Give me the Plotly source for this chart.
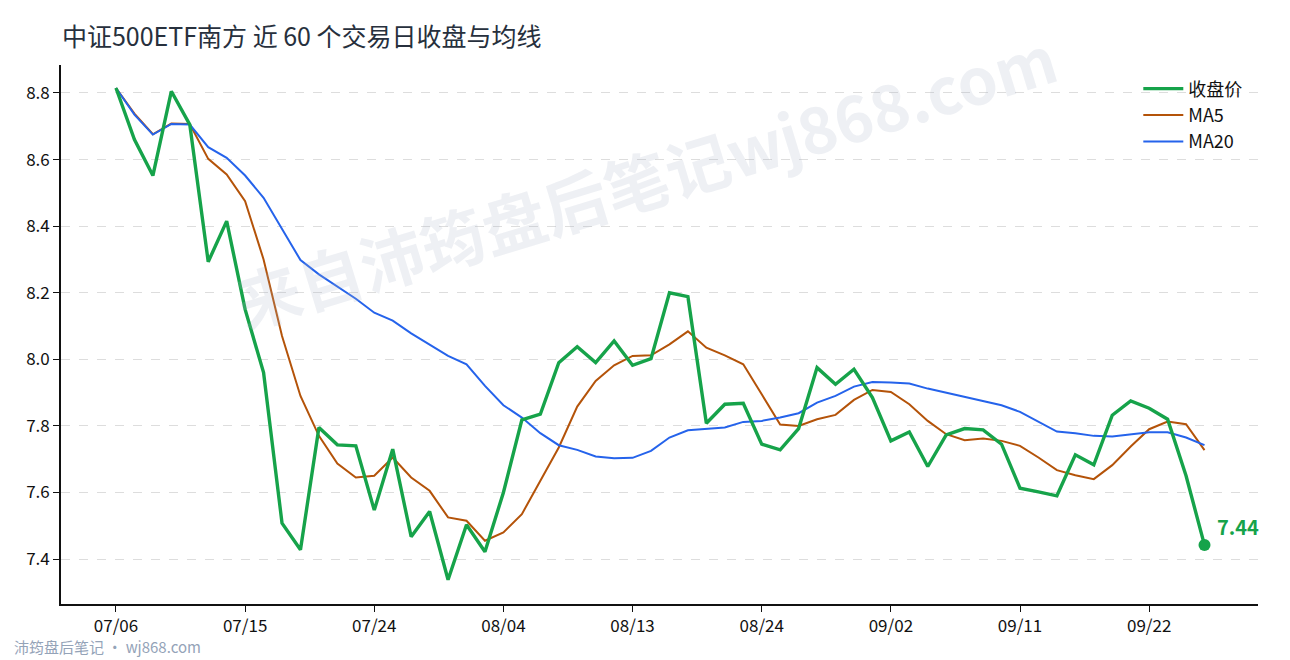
import plotly.graph_objects as go

dates = (
    ["07/06", "07/07", "07/08", "07/09", "07/10", "07/13", "07/14", "07/15", "07/16", "07/17",
     "07/20", "07/21", "07/22", "07/23", "07/24", "07/27", "07/28", "07/29", "07/30", "07/31"]
    + ["08/03", "08/04", "08/05", "08/06", "08/07", "08/10", "08/11", "08/12", "08/13", "08/14",
       "08/17", "08/18", "08/19", "08/20", "08/21", "08/24", "08/25", "08/26", "08/27", "08/28", "08/31"]
    + ["09/01", "09/02", "09/03", "09/04", "09/07", "09/08", "09/09", "09/10", "09/11", "09/14",
       "09/15", "09/16", "09/17", "09/18", "09/21", "09/22", "09/23", "09/24", "09/25"]
)

close = [8.815, 8.66, 8.552, 8.805, 8.705, 8.293, 8.415, 8.15, 7.96, 7.508,
         7.428, 7.795, 7.743, 7.74, 7.547, 7.73, 7.467, 7.543, 7.338, 7.503,
         7.422, 7.60, 7.818, 7.835, 7.99, 8.038, 7.99, 8.055, 7.982, 8.002,
         8.20, 8.188, 7.808, 7.865, 7.868, 7.745, 7.728, 7.792, 7.975, 7.925,
         7.97, 7.885, 7.755, 7.782, 7.678, 7.773, 7.792, 7.788, 7.745, 7.613,
         7.602, 7.59, 7.713, 7.683, 7.832, 7.875, 7.853, 7.82, 7.65, 7.442]

ma5 = [8.815, 8.738, 8.676, 8.708, 8.707, 8.602, 8.555, 8.475, 8.30, 8.07,
       7.89, 7.77, 7.687, 7.645, 7.65, 7.705, 7.645, 7.605, 7.525, 7.515,
       7.455, 7.48, 7.535, 7.635, 7.735, 7.858, 7.935, 7.982, 8.01, 8.012,
       8.045, 8.084, 8.035, 8.012, 7.985, 7.895, 7.804, 7.80, 7.82, 7.833,
       7.878, 7.908, 7.902, 7.865, 7.815, 7.775, 7.757, 7.762, 7.755, 7.74,
       7.705, 7.667, 7.652, 7.64, 7.682, 7.738, 7.79, 7.813, 7.805, 7.727]

ma20 = [8.815, 8.735, 8.675, 8.707, 8.705, 8.637, 8.605, 8.552, 8.485, 8.39,
        8.298, 8.255, 8.218, 8.182, 8.14, 8.116, 8.078, 8.045, 8.01, 7.985,
        7.92, 7.862, 7.825, 7.778, 7.742, 7.728, 7.708, 7.703, 7.704, 7.725,
        7.765, 7.787, 7.79, 7.795, 7.812, 7.815, 7.825, 7.838, 7.87, 7.89,
        7.918, 7.932, 7.93, 7.927, 7.912, 7.90, 7.888, 7.875, 7.862, 7.842,
        7.812, 7.783, 7.778, 7.77, 7.768, 7.775, 7.781, 7.781, 7.765, 7.742]

tick_labels = ["07/06", "07/15", "07/24", "08/04", "08/13", "08/24", "09/02", "09/11", "09/22"]
y_ticks = [7.4, 7.6, 7.8, 8.0, 8.2, 8.4, 8.6, 8.8]

title_text = "中证500ETF南方 近 60 个交易日收盘与均线"
watermark_text = "来自沛筠盘后笔记wj868.com"
footer_text = "沛筠盘后笔记 · wj868.com"

GREEN = "#16a34a"
ORANGE = "#b45309"
BLUE = "#2563eb"
FONT = "Noto Sans CJK SC"

fig = go.Figure()
fig.add_trace(go.Scatter(x=dates, y=ma5, mode="lines", name="MA5",
                         line=dict(color=ORANGE, width=2), legendrank=2))
fig.add_trace(go.Scatter(x=dates, y=ma20, mode="lines", name="MA20",
                         line=dict(color=BLUE, width=2), legendrank=3))
fig.add_trace(go.Scatter(x=dates, y=close, mode="lines", name="收盘价",
                         line=dict(color=GREEN, width=3.4), legendrank=1))
fig.add_trace(go.Scatter(x=[dates[-1]], y=[close[-1]], mode="markers", showlegend=False,
                         marker=dict(color=GREEN, size=12)))

fig.add_annotation(x=dates[-1], y=close[-1], text="<b>%.2f</b>" % close[-1], showarrow=False,
                   xanchor="left", yanchor="middle", xshift=10, yshift=19,
                   font=dict(family=FONT, size=20, color=GREEN))

fig.add_annotation(xref="paper", yref="paper", x=0.488, y=0.79, text="<b>%s</b>" % watermark_text,
                   showarrow=False, textangle=-17, xanchor="center", yanchor="middle",
                   font=dict(family=FONT, size=64, color="rgba(170,178,200,0.2)"))

fig.add_annotation(xref="paper", yref="paper", x=-0.041, y=-0.079, text=footer_text,
                   showarrow=False, xanchor="left", yanchor="middle",
                   font=dict(family=FONT, size=15, color="#94a3b8"))

fig.update_layout(
    width=1290, height=660,
    margin=dict(l=61, r=32, t=65, b=56),
    paper_bgcolor="white", plot_bgcolor="white",
    font=dict(family=FONT, size=17, color="#111111"),
    title=dict(text=title_text, x=0.048, xanchor="left", y=0.944, yanchor="middle",
               xref="container", yref="container",
               font=dict(family=FONT, size=25, color="#27303d")),
    legend=dict(x=0.9, y=0.99, xanchor="left", yanchor="top", bgcolor="rgba(0,0,0,0)",
                font=dict(family=FONT, size=18, color="#111111"), tracegroupgap=0,
                itemwidth=40),
    showlegend=True,
)

fig.update_xaxes(type="category", range=[-2.98, 61.9], tickmode="array", tickvals=tick_labels,
                 ticktext=tick_labels, showgrid=False, showline=True, linecolor="#111111",
                 linewidth=1.6, ticks="outside", ticklen=6, tickwidth=1.4, tickcolor="#111111",
                 zeroline=False, tickfont=dict(size=17))
fig.update_yaxes(range=[7.265, 8.884], tickmode="array", tickvals=y_ticks,
                 ticktext=["%.1f" % v for v in y_ticks], showgrid=True, gridcolor="#dddddd",
                 griddash="dash", gridwidth=1, showline=True, linecolor="#111111", linewidth=1.6,
                 ticks="outside", ticklen=6, tickwidth=1.4, tickcolor="#111111", zeroline=False,
                 tickfont=dict(size=17))

fig.write_html("out.html", config={"displayModeBar": False},
               post_script="document.body.style.margin='0px';")
